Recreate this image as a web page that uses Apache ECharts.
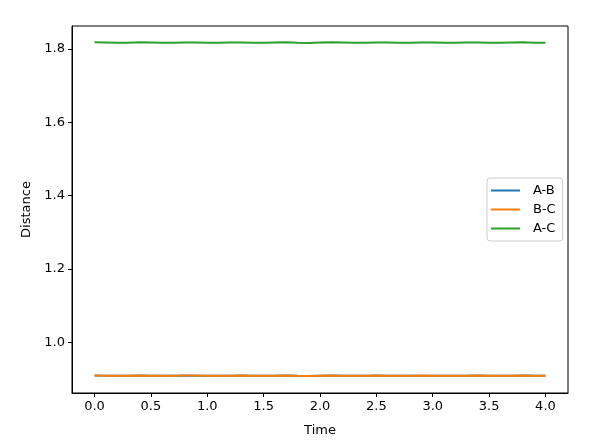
<!DOCTYPE html>
<html>
<head>
<meta charset="utf-8">
<script src="https://cdn.jsdelivr.net/npm/echarts@6/dist/echarts.min.js"></script>
<style>html,body{margin:0;padding:0;background:#fff;}#c{width:595px;height:442px;}</style>
</head>
<body>
<div id="c"></div>
<script>
const time = [0.0,0.1,0.2,0.3,0.4,0.5,0.6,0.7,0.8,0.9,1.0,1.1,1.2,1.3,1.4,1.5,1.6,1.7,1.8,1.9,2.0,2.1,2.2,2.3,2.4,2.5,2.6,2.7,2.8,2.9,3.0,3.1,3.2,3.3,3.4,3.5,3.6,3.7,3.8,3.9,4.0];
const abValues = [0.9089,0.9087,0.9083,0.9085,0.9089,0.9088,0.9083,0.9084,0.9089,0.9088,0.9084,0.9083,0.9088,0.9089,0.9084,0.9083,0.9087,0.9089,0.9085,0.9082,0.9086,0.9089,0.9086,0.9083,0.9085,0.9089,0.9087,0.9083,0.9084,0.9088,0.9088,0.9084,0.9083,0.9088,0.9089,0.9085,0.9083,0.9087,0.9089,0.9086,0.9083];
const bcValues = [0.9090,0.9088,0.9083,0.9085,0.9090,0.9088,0.9083,0.9084,0.9089,0.9089,0.9084,0.9083,0.9088,0.9089,0.9084,0.9083,0.9087,0.9090,0.9085,0.9082,0.9086,0.9090,0.9086,0.9083,0.9085,0.9089,0.9087,0.9083,0.9084,0.9089,0.9088,0.9084,0.9083,0.9088,0.9089,0.9085,0.9083,0.9087,0.9090,0.9086,0.9083];
const acValues = [1.8180,1.8175,1.8165,1.8170,1.8180,1.8175,1.8165,1.8168,1.8178,1.8177,1.8167,1.8166,1.8176,1.8178,1.8168,1.8165,1.8174,1.8179,1.8170,1.8164,1.8172,1.8179,1.8172,1.8165,1.8169,1.8178,1.8174,1.8166,1.8167,1.8177,1.8176,1.8167,1.8166,1.8175,1.8178,1.8169,1.8165,1.8173,1.8179,1.8171,1.8166];
const xTicks = [0.0,0.5,1.0,1.5,2.0,2.5,3.0,3.5,4.0];
const yTicks = [1.0,1.2,1.4,1.6,1.8];
const seriesNames = ['A-B','B-C','A-C'];
const colors = ['#1f77b4','#ff7f0e','#2ca02c'];

const allValues = [abValues, bcValues, acValues];
const chart = echarts.init(document.getElementById('c'), null, {renderer:'canvas'});
const font = 'DejaVu Sans';
chart.setOption({
  animation: false,
  backgroundColor: '#fff',
  textStyle: {fontFamily: font},
  grid: {left: 72, right: 27, top: 26, bottom: 48, show: true, borderColor: '#000', borderWidth: 1, containLabel: false},
  legend: {
    orient: 'vertical', left: 487, top: 178,
    data: seriesNames,
    icon: 'rect', itemWidth: 29, itemHeight: 2, itemGap: 6,
    backgroundColor: '#fff', borderColor: '#cccccc', borderWidth: 1, borderRadius: 3,
    padding: [6, 7, 6, 4],
    textStyle: {fontFamily: font, fontSize: 13, color: '#000', padding: [0,0,0,8]}
  },
  xAxis: {
    type: 'value', min: -0.2, max: 4.2,
    name: 'Time', nameLocation: 'middle', nameGap: 31,
    nameTextStyle: {fontFamily: font, fontSize: 13, color: '#000'},
    splitLine: {show: false},
    axisLine: {show: true, onZero: false, lineStyle: {color: '#000', width: 1}},
    axisTick: {show: true, length: 4, lineStyle: {color: '#000'}, customValues: xTicks},
    axisLabel: {fontFamily: font, fontSize: 13, color: '#000', margin: 7, customValues: xTicks, formatter: v => v.toFixed(1)}
  },
  yAxis: {
    type: 'value', min: 0.8615, max: 1.8625,
    name: 'Distance', nameLocation: 'middle', nameGap: 36,
    nameTextStyle: {fontFamily: font, fontSize: 13, color: '#000'},
    splitLine: {show: false},
    axisLine: {show: true, onZero: false, lineStyle: {color: '#000', width: 1}},
    axisTick: {show: true, length: 4, lineStyle: {color: '#000'}, customValues: yTicks},
    axisLabel: {fontFamily: font, fontSize: 13, color: '#000', margin: 7, customValues: yTicks, formatter: v => v.toFixed(1)}
  },
  series: seriesNames.map((n, i) => ({
    name: n, type: 'line', showSymbol: false, symbol: 'none',
    data: time.map((t, k) => [t, allValues[i][k]]),
    lineStyle: {color: colors[i], width: 2},
    itemStyle: {color: colors[i]}
  }))
});
</script>
</body>
</html>
